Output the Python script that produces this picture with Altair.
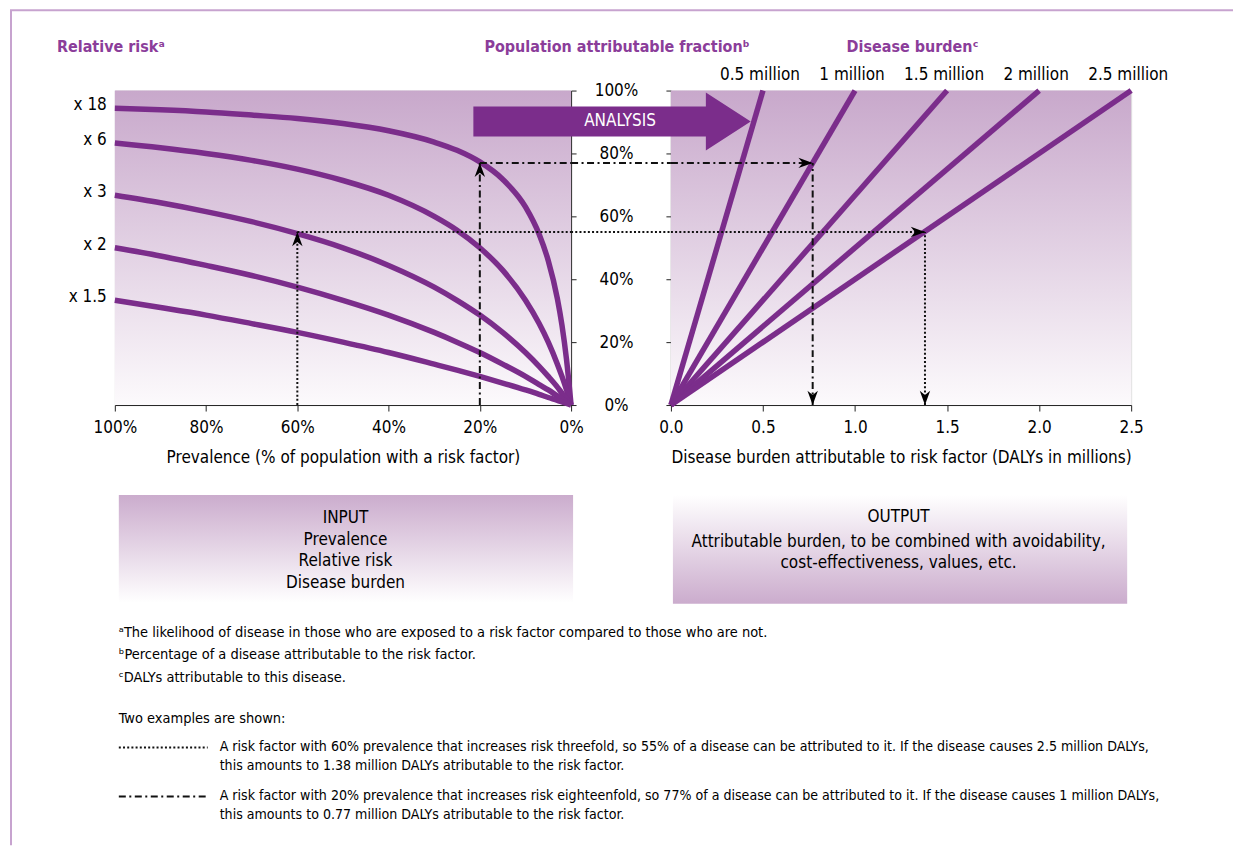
import altair as alt
import pandas as pd

FONT = "DejaVu Sans Condensed, Liberation Sans, sans-serif"
PURPLE = "#7b2d8b"
TITLE_PURPLE = "#8b3d9a"

# ---------------- data ----------------
prevalence = [0, 1, 2, 3, 5, 7, 10, 15, 20, 25, 30, 40, 50, 60, 70, 80, 90, 100]
rr_labels = ["x 18", "x 6", "x 3", "x 2", "x 1.5"]
paf_x18 = [0, 14.5, 25.4, 33.8, 45.9, 54.3, 63.0, 71.8, 77.3, 81.0, 83.6, 87.2, 89.5, 91.1, 92.2, 93.2, 93.9, 94.4]
paf_x6 = [0, 4.8, 9.1, 13.0, 20.0, 25.9, 33.3, 42.9, 50.0, 55.6, 60.0, 66.7, 71.4, 75.0, 77.8, 80.0, 81.8, 83.3]
paf_x3 = [0, 2.0, 3.8, 5.7, 9.1, 12.3, 16.7, 23.1, 28.6, 33.3, 37.5, 44.4, 50.0, 54.5, 58.3, 61.5, 64.3, 66.7]
paf_x2 = [0, 1.0, 2.0, 2.9, 4.8, 6.5, 9.1, 13.0, 16.7, 20.0, 23.1, 28.6, 33.3, 37.5, 41.2, 44.4, 47.4, 50.0]
paf_x15 = [0, 0.5, 1.0, 1.5, 2.4, 3.4, 4.8, 7.0, 9.1, 11.1, 13.0, 16.7, 20.0, 23.1, 25.9, 28.6, 31.0, 33.3]

burden_labels = ["0.5 million", "1 million", "1.5 million", "2 million", "2.5 million"]
burden_totals = [0.5, 1.0, 1.5, 2.0, 2.5]

prev_ticks = [0, 20, 40, 60, 80, 100]
paf_ticks = [0, 20, 40, 60, 80, 100]
daly_ticks = [0, 0.5, 1.0, 1.5, 2.0, 2.5]

# worked examples: dotted (x3 at 60%) and dash-dot (x18 at 20%)
ex_prevalence = [60, 20]
ex_paf = [55, 77]
ex_burden = [1.38, 0.77]
ex_dash = [[2, 2.2], [7, 3.5, 2, 3.5]]

titles = ["Relative risk\u1d43", "Population attributable fraction\u1d47", "Disease burden\u1d9c"]
input_lines = ["INPUT", "Prevalence", "Relative risk", "Disease burden"]
output_lines = ["OUTPUT", "Attributable burden, to be combined with avoidability,",
                "cost-effectiveness, values, etc."]
footnotes = [
    "\u1d43The likelihood of disease in those who are exposed to a risk factor compared to those who are not.",
    "\u1d47Percentage of a disease attributable to the risk factor.",
    "\u1d9cDALYs attributable to this disease.",
]
examples_intro = "Two examples are shown:"
example_texts = [
    ["A risk factor with 60% prevalence that increases risk threefold, so 55% of a disease can be attributed to it. If the disease causes 2.5 million DALYs,",
     "this amounts to 1.38 million DALYs atributable to the risk factor."],
    ["A risk factor with 20% prevalence that increases risk eighteenfold, so 77% of a disease can be attributed to it. If the disease causes 1 million DALYs,",
     "this amounts to 0.77 million DALYs atributable to the risk factor."],
]

# ---------------- tables ----------------
curve_rows = []
for lab, series in zip(rr_labels, [paf_x18, paf_x6, paf_x3, paf_x2, paf_x15]):
    for p, v in zip(prevalence, series):
        curve_rows.append({"rr": lab, "prevalence": p, "paf": v})
curves = pd.DataFrame(curve_rows)
curve_ends = curves[curves["prevalence"] == 100]

line_rows = []
for lab, b in zip(burden_labels, burden_totals):
    line_rows.append({"burden": lab, "daly": 0.0, "paf": 0})
    line_rows.append({"burden": lab, "daly": b, "paf": 100})
burden_lines = pd.DataFrame(line_rows)
burden_tops = pd.DataFrame({"burden": burden_labels, "daly": burden_totals})

one = pd.DataFrame({"k": [0]})

W1, W2, H = 457, 461, 315
FS_TICK, FS_TITLE, FS_BOX, FS_NOTE, FS_EX = 17, 17, 17, 14.5, 14.1

xs_left = alt.Scale(domain=[0, 100], reverse=True, nice=False, zero=False)
xs_right = alt.Scale(domain=[0, 2.5], nice=False)
ys = alt.Scale(domain=[0, 100], nice=False)

AX = dict(labelFont=FONT, titleFont=FONT, labelColor="black", titleColor="black",
          domainColor="#222", tickColor="#222", grid=False, labelFlush=False,
          titleFontWeight="normal")

ARROW_TIP = "M0,0 L0.55,1.5 L0,1.05 L-0.55,1.5 Z"
BIG_ARROW = "M-8.03,-0.52 L0,-0.52 L0,-1 L1.55,0 L0,1 L0,0.52 L-8.03,0.52 Z"


def grad(top, bottom):
    return alt.Gradient(gradient="linear",
                        stops=[alt.GradientStop(color=top, offset=0),
                               alt.GradientStop(color=bottom, offset=1)],
                        x1=0, x2=0, y1=0, y2=1)


def txt(s, x, y, size=FS_BOX, color="black", weight="normal", align="center"):
    return alt.Chart(one).mark_text(text=s, font=FONT, fontSize=size, color=color,
                                    fontWeight=weight, align=align, baseline="middle",
                                    clip=False).encode(x=alt.value(x), y=alt.value(y))


def box(x0, x1, y0, y1, fill):
    return alt.Chart(one).mark_rect(fill=fill, clip=False).encode(
        x=alt.value(x0), x2=alt.value(x1), y=alt.value(y0), y2=alt.value(y1))


def arrows(df, xfield, xscale):
    return alt.Chart(df).mark_point(shape=ARROW_TIP, filled=True, color="black", size=360,
                                    opacity=1).encode(
        x=alt.X(f"{xfield}:Q", scale=xscale), y=alt.Y("paf:Q", scale=ys),
        angle=alt.Angle("angle:Q", scale=None))


# ---------------- left panel ----------------
left_layers = [
    box(0, W1, 0, H, grad("#c8a8cb", "#fcfafc")),
    alt.Chart(curves).mark_line(color=PURPLE, strokeWidth=5.5, interpolate="monotone").encode(
        x=alt.X("prevalence:Q", scale=xs_left,
                axis=alt.Axis(values=prev_ticks, labelExpr="datum.value + '%'",
                              title="Prevalence (% of population with a risk factor)",
                              tickSize=6, labelPadding=9, titlePadding=14,
                              labelFontSize=FS_TICK, titleFontSize=FS_TITLE, **AX)),
        y=alt.Y("paf:Q", scale=ys,
                axis=alt.Axis(values=paf_ticks, orient="right", labels=False, tickSize=5,
                              title=None, **AX)),
        detail="rr:N"),
    alt.Chart(curve_ends).mark_text(font=FONT, fontSize=FS_TICK, align="right", baseline="middle",
                                    dx=-8, dy=-3, color="black").encode(
        x=alt.X("prevalence:Q", scale=xs_left), y=alt.Y("paf:Q", scale=ys), text="rr:N"),
]
for p, v, d in zip(ex_prevalence, ex_paf, ex_dash):
    exd = pd.DataFrame({"prevalence": [p], "paf": [v], "zero": [0], "zp": [0], "angle": [0]})
    left_layers.append(alt.Chart(exd).mark_rule(color="#111", strokeWidth=2, strokeDash=d).encode(
        x=alt.X("prevalence:Q", scale=xs_left), y=alt.Y("zero:Q", scale=ys), y2="paf:Q"))
    left_layers.append(alt.Chart(exd).mark_rule(color="#111", strokeWidth=2, strokeDash=d).encode(
        x=alt.X("prevalence:Q", scale=xs_left), x2="zp:Q", y=alt.Y("paf:Q", scale=ys)))
    left_layers.append(arrows(exd, "prevalence", xs_left))

left_layers += [
    txt(titles[0], -58, -44, size=16, color=TITLE_PURPLE, weight="bold", align="left"),
    txt(titles[1], 503, -44, size=16, color=TITLE_PURPLE, weight="bold"),
    box(4, 459, 405, 513, grad("#cbaccd", "#ffffff")),
]
for i, s in enumerate(input_lines):
    left_layers.append(txt(s, 231, 428 + 21.7 * i))
for i, s in enumerate(footnotes):
    left_layers.append(txt(s, 4, [543, 565, 588][i], size=FS_NOTE, align="left"))
left_layers.append(txt(examples_intro, 4, 629, size=FS_NOTE, align="left"))
for k, (lines, d) in enumerate(zip(example_texts, ex_dash)):
    y0 = [658, 707][k]
    left_layers.append(alt.Chart(one).mark_rule(color="#111", strokeWidth=2, strokeDash=d,
                                                clip=False).encode(
        x=alt.value(4), x2=alt.value(93), y=alt.value(y0)))
    for j, s in enumerate(lines):
        left_layers.append(txt(s, 105, y0 + 19 * j, size=FS_EX, align="left"))
# frame line
left_layers.append(alt.Chart(one).mark_rule(color="#c7a3cf", strokeWidth=2, clip=False).encode(
    x=alt.value(-104), y=alt.value(-80.5), y2=alt.value(756)))

left = alt.layer(*left_layers).properties(width=W1, height=H)

# ---------------- right panel ----------------
right_layers = [
    box(0, W2, 0, H, grad("#c8a8cb", "#fcfafc")),
    alt.Chart(burden_lines).mark_line(color=PURPLE, strokeWidth=5.5).encode(
        x=alt.X("daly:Q", scale=xs_right,
                axis=alt.Axis(values=daly_ticks, format=".1f",
                              title="Disease burden attributable to risk factor (DALYs in millions)",
                              tickSize=6, labelPadding=9, titlePadding=14,
                              labelFontSize=FS_TICK, titleFontSize=FS_TITLE, **AX)),
        y=alt.Y("paf:Q", scale=ys,
                axis=alt.Axis(values=paf_ticks, labelExpr="datum.value + '%'", orient="left",
                              tickSize=5, labelAlign="center", labelPadding=50,
                              labelBaseline="middle", labelFontSize=FS_TICK, title=None, **AX)),
        detail="burden:N"),
    alt.Chart(burden_tops).mark_text(font=FONT, fontSize=FS_TICK, baseline="middle", dx=-3,
                                     color="black", clip=False).encode(
        x=alt.X("daly:Q", scale=xs_right), y=alt.value(-16), text="burden:N"),
]
for v, b, d in zip(ex_paf, ex_burden, ex_dash):
    exd = pd.DataFrame({"daly": [b], "paf": [v], "zero": [0], "zd": [0.0]})
    right_layers.append(alt.Chart(exd).mark_rule(color="#111", strokeWidth=2, strokeDash=d).encode(
        x=alt.X("zd:Q", scale=xs_right), x2="daly:Q", y=alt.Y("paf:Q", scale=ys)))
    right_layers.append(alt.Chart(exd).mark_rule(color="#111", strokeWidth=2, strokeDash=d,
                                                 clip=False).encode(
        x=alt.value(-100), x2=alt.value(0), y=alt.Y("paf:Q", scale=ys)))
    right_layers.append(alt.Chart(exd).mark_rule(color="#111", strokeWidth=2, strokeDash=d).encode(
        x=alt.X("daly:Q", scale=xs_right), y=alt.Y("zero:Q", scale=ys), y2="paf:Q"))
    tips = pd.DataFrame({"daly": [b, b], "paf": [v, 0], "angle": [90, 180]})
    right_layers.append(arrows(tips, "daly", xs_right))

right_layers += [
    alt.Chart(one).mark_point(shape=BIG_ARROW, filled=True, color=PURPLE, size=3364, opacity=1,
                              clip=False).encode(x=alt.value(35), y=alt.value(31)),
    txt("ANALYSIS", -51, 31, size=FS_TICK, color="white"),
    txt(titles[2], 242, -44, size=16, color=TITLE_PURPLE, weight="bold"),
    box(2, 457, 405, 514, grad("#ffffff", "#cbaccd")),
]
for i, s in enumerate(output_lines):
    right_layers.append(txt(s, 228, [427, 452, 473][i]))
right_layers.append(alt.Chart(one).mark_rule(color="#c7a3cf", strokeWidth=2, clip=False).encode(
    x=alt.value(-662), x2=alt.value(563), y=alt.value(-80.5)))

right = alt.layer(*right_layers).properties(width=W2, height=H)

chart = alt.hconcat(left, right, spacing=100, bounds="flush").properties(
    padding={"left": 0, "top": 0, "right": 0, "bottom": 0}
).configure_view(stroke=None).configure(background="white")

chart.save("out.html", embed_options={"renderer": "svg", "actions": False})
